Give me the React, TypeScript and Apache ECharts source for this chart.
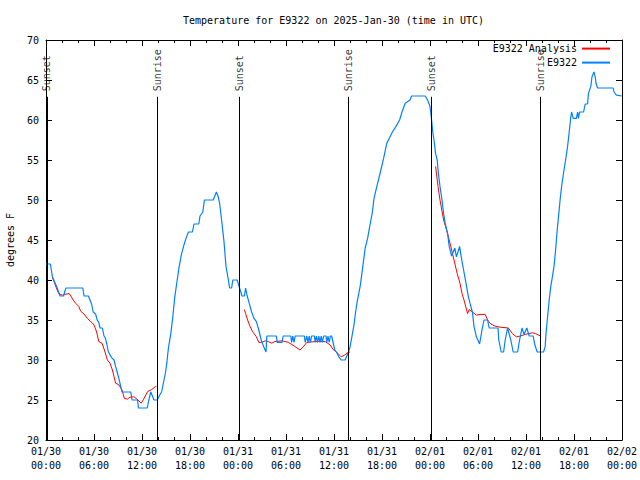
import React, { useEffect, useRef } from "react";
import * as echarts from "echarts";

// Hours since 2025-01-30 00:00 UTC
const obsHours = [
  0.0, 0.55, 0.8, 1.4, 1.75, 2.2, 2.33, 2.5, 4.6, 4.75, 5.3, 5.5, 5.7, 5.9, 6.2, 6.4, 6.6, 6.75, 7.05, 7.25,
  7.4, 7.6, 7.8, 8.2, 8.5, 8.7, 8.9, 9.1, 9.3, 9.5, 10.6, 10.75, 11.45, 11.55, 12.65, 12.9, 13.1, 13.5, 13.9, 14.2,
  14.45, 14.75, 14.95, 15.1, 15.3, 15.6, 15.85, 16.1, 16.4, 16.65, 16.95, 17.25, 17.5, 17.8, 18.3, 18.5, 19.1, 19.25, 19.6, 19.8,
  20.9, 21.1, 21.3, 21.5, 21.7, 21.95, 22.25, 22.5, 22.8, 22.95, 23.2, 23.35, 23.9, 24.2, 24.5, 24.8, 24.95, 25.15, 25.4, 25.7,
  26.0, 26.3, 26.6, 26.9, 27.2, 27.5, 27.6, 28.8, 28.9, 29.5, 29.65, 30.6, 30.7, 30.85, 31.0, 31.15, 32.3, 32.4, 32.6, 32.75,
  32.9, 33.05, 33.2, 33.55, 33.65, 33.8, 33.95, 34.1, 34.25, 34.4, 34.55, 34.7, 35.0, 35.1, 35.25, 35.4, 35.55, 35.7, 36.1, 36.3,
  36.6, 36.9, 37.4, 37.8, 38.0, 38.2, 38.5, 38.7, 38.9, 39.3, 39.6, 39.9, 40.2, 40.5, 40.8, 41.0, 41.4, 41.8, 42.2, 42.6,
  42.9, 43.3, 43.75, 44.2, 44.5, 44.9, 45.5, 45.7, 47.4, 47.7, 48.0, 48.2, 48.35, 48.5, 48.7, 48.9, 49.05, 49.25, 49.5, 49.7,
  49.9, 50.2, 50.4, 50.7, 50.9, 51.1, 51.3, 51.5, 51.7, 51.9, 52.2, 52.5, 52.8, 53.0, 53.3, 53.5, 53.8, 54.2, 54.5, 54.75,
  55.2, 55.4, 56.5, 56.6, 56.9, 57.2, 57.4, 57.7, 58.1, 58.4, 58.95, 59.2, 59.5, 59.75, 60.1, 60.4, 60.9, 61.1, 61.4, 62.2,
  62.4, 62.5, 62.7, 62.9, 63.1, 63.3, 63.5, 63.7, 63.9, 64.1, 64.3, 64.5, 64.75, 64.95, 65.2, 65.4, 65.6, 65.7, 65.9, 66.3,
  66.45, 66.55, 66.7, 67.2, 67.4, 67.7, 67.8, 68.1, 68.25, 68.5, 68.65, 68.75, 68.95, 70.9, 71.0, 71.3, 72.0,
];
const obsTemps = [
  42, 42, 40.4, 39, 38, 38, 38.5, 39, 39, 38, 38, 37.5, 37, 36, 35.75, 35, 34.7, 34, 34, 33,
  32.8, 32, 31, 30.3, 30, 29.2, 28.5, 27.7, 26.9, 26, 26, 25, 25, 24, 24, 25.2, 26, 25, 25, 25.6,
  26, 27.5, 28.5, 29.6, 31.5, 33.3, 35.4, 37.9, 40, 41.7, 43.3, 44.4, 45.2, 46, 46, 47, 47, 48, 48.5, 50,
  50, 50.5, 51, 50.5, 49.6, 47.5, 44.8, 41.7, 40, 39, 39, 40, 40, 39, 38, 38, 39, 38, 37.1, 36,
  35.2, 34.8, 33.75, 32.5, 31.7, 31, 33, 33, 32.2, 32.2, 33, 33, 32.2, 33, 32.2, 33, 33, 32.2, 33, 32.2,
  33, 32.2, 33, 33, 32.2, 33, 32.2, 33, 32.2, 33, 32.2, 33, 33, 32.2, 33, 32.2, 33, 33, 31.25, 31,
  30.4, 30, 30, 31, 31.6, 32.7, 34.4, 36, 37.3, 39.4, 41.7, 44, 45.2, 46.9, 48.5, 50.2, 51.9, 53.5, 55.2, 57.1,
  57.7, 58.5, 59.2, 60, 61, 62.1, 62.5, 63, 63, 62.5, 61.7, 60, 58.5, 57.5, 55.8, 55, 53.3, 51.7, 50, 48.3,
  47.1, 45.8, 44.2, 43, 43.5, 44, 42.9, 43.5, 44.2, 42.9, 41.25, 39.6, 37.9, 37.1, 36, 34.2, 32.9, 32, 33.75, 35,
  35, 34, 34, 32.5, 31, 31, 32.5, 34, 32.5, 31, 31, 32.5, 34, 33.2, 34, 33, 33, 31.9, 31, 31,
  31.7, 33.3, 35.4, 37.5, 39.2, 40.4, 41.7, 43.75, 46.25, 48.3, 50.4, 52.1, 53.75, 55, 56.7, 58.5, 60.4, 61, 60.2, 60.2,
  61, 60.2, 61, 61, 62, 62, 63.3, 64.2, 65.4, 66, 65.4, 64.6, 64, 64, 63.5, 63.1, 63,
];

// Analysis: three separate runs (null = gap)
const anaHours = [
  0.8, 1.0, 1.4, 1.6, 2.05, 2.33, 2.9, 3.1, 3.4, 3.7, 4.1, 4.33, 4.75, 5.17, 5.58, 6.0, 6.33, 6.6, 7.0, 7.3,
  7.67, 8.0, 8.3, 8.7, 9.1, 9.5, 9.8, 10.17, 10.5, 11.0, 11.5, 11.9, 12.2, 12.7, 13.2, 13.7, 13.8,
  19.0,
  24.8, 24.95, 25.2, 25.5, 25.8, 26.0, 26.3, 26.6, 26.96, 27.4, 27.8, 28.2, 28.6, 29.5, 30.3, 31.1, 31.75, 32.2, 32.6, 33.6,
  34.9, 35.5, 35.9, 36.3, 36.9, 37.3, 37.7, 38.0,
  43.0,
  48.7, 49.0, 49.25, 49.7, 50.2, 50.6, 51.0, 51.4, 51.75, 52.0, 52.25, 52.7, 52.9, 53.3, 53.8, 54.25, 54.9, 55.2, 55.6, 56.1,
  56.75, 57.8, 58.3, 58.8, 59.3, 59.9, 60.8, 61.2, 61.6, 61.9,
];
const anaTemps: (number | null)[] = [
  40.3, 39.8, 38.75, 38.3, 38.1, 38.2, 38.3, 38.0, 37.5, 37.1, 36.7, 36.1, 35.75, 35.2, 34.8, 34.4, 33.5, 32.3, 32.1, 31.25,
  30, 29.6, 28.75, 27.1, 26.9, 26.25, 25.2, 25.1, 25.35, 25.4, 25, 24.6, 25.1, 26.05, 26.3, 26.7, 26.7,
  null,
  36.3, 35.8, 35, 34.2, 33.6, 33.3, 32.9, 32.2, 32.2, 32.4, 32.3, 32.1, 32.3, 32.4, 32.2, 31.7, 31.25, 31.7, 32.2, 32.3,
  32.3, 31.9, 31.3, 31.0, 30.4, 30.6, 30.9, 31.0,
  null,
  54.2, 51.7, 50, 47.5, 45.8, 44.2, 42.5, 40.8, 39.6, 38.3, 37.5, 35.8, 36.3, 36.0, 35.6, 35.7, 35.7, 35, 34.5, 34.25,
  34.1, 34, 33.3, 32.9, 33.0, 33.2, 33.4, 33.3, 33.1, 33.0,
];

const eventHours = [0.1, 13.9, 24.17, 37.8, 48.17, 61.8];
const eventNames = ["Sunset", "Sunrise", "Sunset", "Sunrise", "Sunset", "Sunrise"];
const eventTop = 62.9;

const tickDates = ["01/30", "01/30", "01/30", "01/30", "01/31", "01/31", "01/31", "01/31", "02/01", "02/01", "02/01", "02/01", "02/02"];
const tickTimes = ["00:00", "06:00", "12:00", "18:00", "00:00", "06:00", "12:00", "18:00", "00:00", "06:00", "12:00", "18:00", "00:00"];

const FONT = "DejaVu Sans Mono";

export default function App() {
  const ref = useRef<HTMLDivElement>(null);
  useEffect(() => {
    if (!ref.current) return;
    const chart = echarts.init(ref.current, undefined, { renderer: "svg" });
    const obs = obsHours.map((h, i) => [h, obsTemps[i]]);
    const ana = anaHours.map((h, i) => [h, anaTemps[i]]);
    const black = "#000";
    const tickCommon = { show: true, inside: true, length: 6, lineStyle: { color: black, width: 1 } };
    const xBase = {
      type: "value" as const,
      min: 0,
      max: 72,
      interval: 6,
      splitLine: { show: false },
      axisLine: { show: true, onZero: false, lineStyle: { color: black, width: 1 } },
      axisTick: tickCommon,
      minorTick: { show: true, splitNumber: 3, length: 3, lineStyle: { color: black, width: 1 } },
    };
    const yBase = {
      type: "value" as const,
      min: 20,
      max: 70,
      interval: 5,
      splitLine: { show: false },
      axisLine: { show: true, onZero: false, lineStyle: { color: black, width: 1 } },
      axisTick: tickCommon,
    };
    const legendCommon = {
      right: 29,
      align: "right",
      itemWidth: 28,
      itemHeight: 14,
      itemGap: 0,
      padding: 0,
      itemStyle: { opacity: 0 },
      textStyle: { fontFamily: FONT, fontSize: 10, color: black },
    };
    chart.setOption({
      animation: false,
      backgroundColor: "#fff",
      title: {
        text: "Temperature for E9322 on 2025-Jan-30 (time in UTC)",
        left: 178,
        top: 10,
        textStyle: { fontFamily: FONT, fontSize: 10, fontWeight: "normal", color: black },
      },
      legend: [
        { ...legendCommon, data: ["E9322 Analysis"], top: 43 },
        { ...legendCommon, data: ["E9322"], top: 57 },
      ],
      grid: {
        left: 46,
        right: 18,
        top: 40,
        bottom: 40,
        containLabel: false,
        outerBoundsMode: "none",
      },
      xAxis: [
        {
          ...xBase,
          position: "bottom",
          axisLabel: {
            fontFamily: FONT,
            fontSize: 10,
            color: black,
            margin: 4,
            lineHeight: 14,
            formatter: (v: number) => {
              const i = Math.round(v / 6);
              return tickDates[i] + "\n" + tickTimes[i];
            },
          },
        },
        { ...xBase, position: "top", axisLabel: { show: false } },
      ],
      yAxis: [
        {
          ...yBase,
          position: "left",
          name: "degrees F",
          nameLocation: "middle",
          nameRotate: 90,
          nameGap: 31,
          nameTextStyle: { fontFamily: FONT, fontSize: 10, color: black },
          axisLabel: { fontFamily: FONT, fontSize: 10, color: black, margin: 7 },
        },
        { ...yBase, position: "right", axisLabel: { show: false } },
      ],
      series: [
        {
          name: "E9322 Analysis",
          type: "line",
          data: ana,
          symbol: "none",
          connectNulls: false,
          lineStyle: { color: "#ff0000", width: 1 },
          itemStyle: { color: "#ff0000" },
          z: 3,
        },
        {
          name: "E9322",
          type: "line",
          data: obs,
          symbol: "none",
          lineStyle: { color: "#0080ff", width: 1.2 },
          itemStyle: { color: "#0080ff" },
          z: 4,
        },
        {
          name: "events",
          type: "scatter",
          data: eventHours.map((h) => [h, eventTop]),
          symbolSize: 1,
          itemStyle: { color: "rgba(0,0,0,0)" },
          silent: true,
          z: 5,
          label: {
            show: true,
            formatter: (p: any) => eventNames[p.dataIndex],
            position: "top",
            distance: 5,
            rotate: 90,
            align: "left",
            verticalAlign: "middle",
            fontFamily: FONT,
            fontSize: 10,
            color: black,
          },
          labelLayout: { hideOverlap: false },
          markLine: {
            silent: true,
            symbol: "none",
            label: { show: false },
            lineStyle: { color: black, width: 1, type: "solid" },
            data: eventHours.map((h) => [
              { coord: [h, 20] },
              { coord: [h, eventTop] },
            ]),
          },
        },
      ],
    });
    return () => chart.dispose();
  }, []);
  return (
    <div
      ref={ref}
      style={{ position: "fixed", left: 0, top: 0, width: 640, height: 480 }}
    />
  );
}
